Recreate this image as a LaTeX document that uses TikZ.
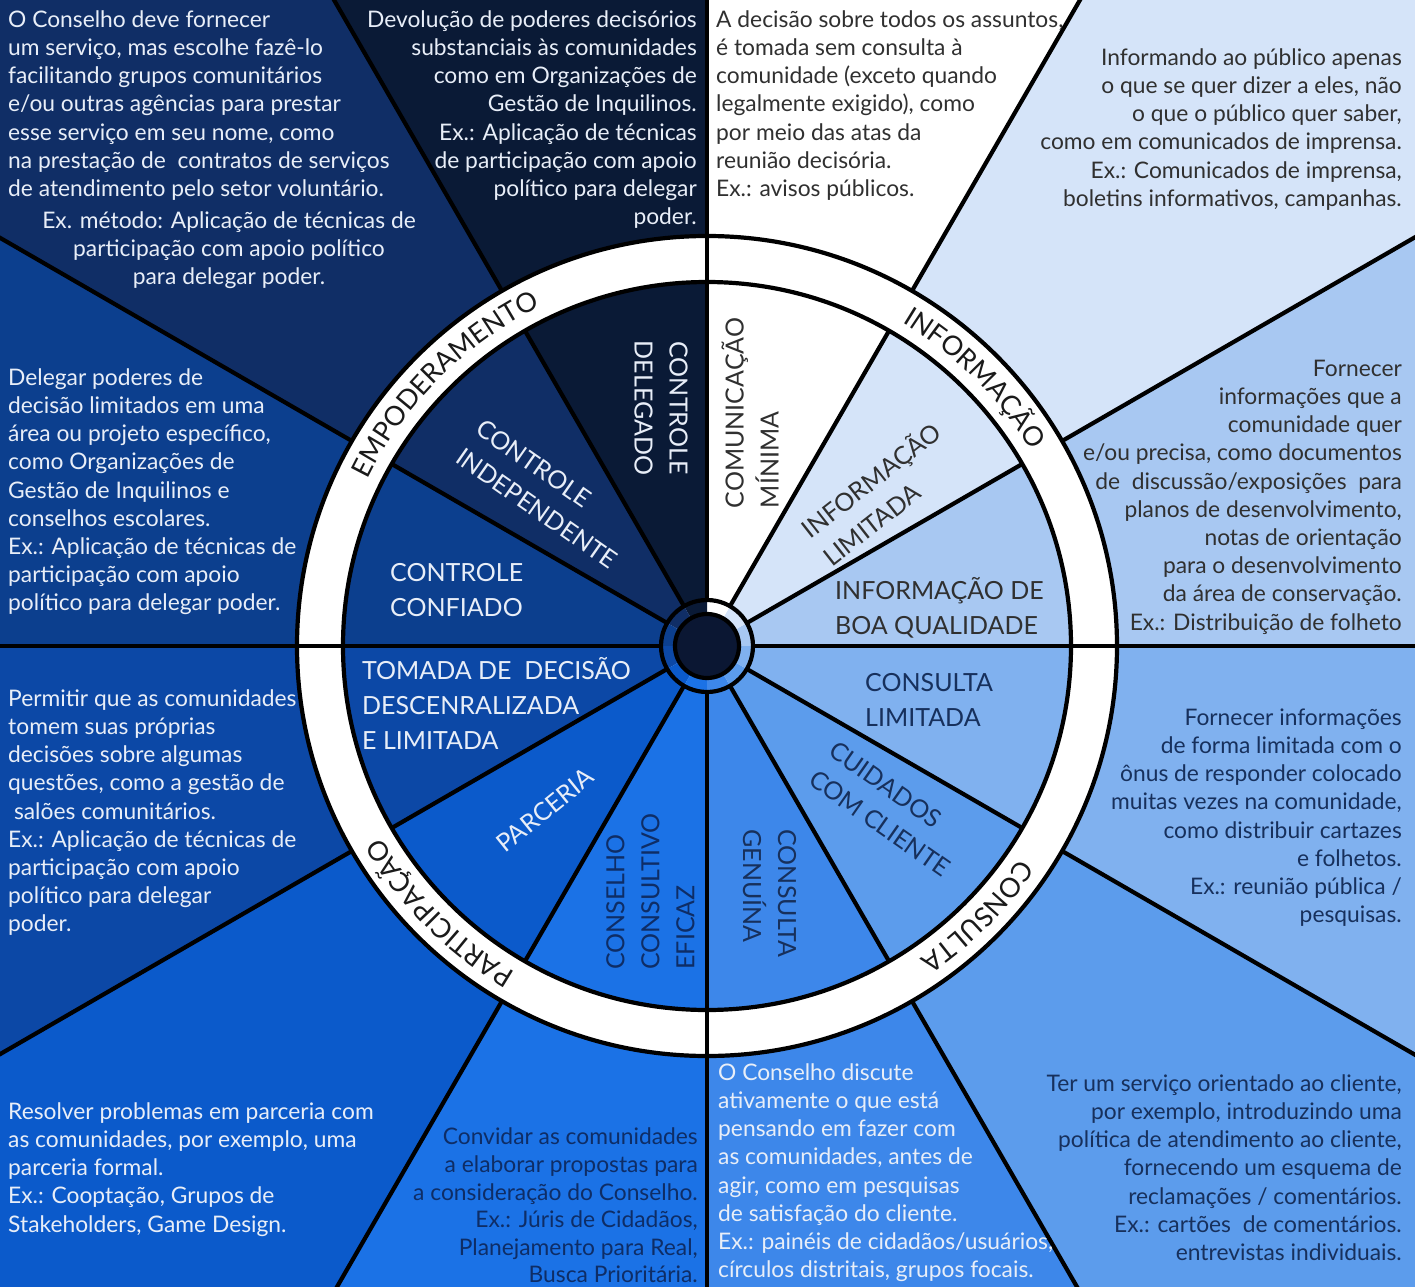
\documentclass[tikz,border=0pt]{standalone}
\usepackage{fontspec}
\setmainfont{Lato}
\usetikzlibrary{decorations.text}
\definecolor{sa}{HTML}{A8C8F2}
\definecolor{sb}{HTML}{D5E4F9}
\definecolor{sc}{HTML}{FFFFFF}
\definecolor{sd}{HTML}{0A1A36}
\definecolor{se}{HTML}{102E66}
\definecolor{sf}{HTML}{0C3F8E}
\definecolor{sg}{HTML}{0C48A6}
\definecolor{sh}{HTML}{0B5ACB}
\definecolor{si}{HTML}{1B72E6}
\definecolor{sj}{HTML}{3D87EA}
\definecolor{sk}{HTML}{5C9CEC}
\definecolor{sl}{HTML}{80B1EF}
\definecolor{hubc}{HTML}{0B1733}
\definecolor{lightT}{HTML}{E8EEF8}
\definecolor{greyT}{HTML}{303030}
\definecolor{navyT}{HTML}{17305C}
\definecolor{navyB}{HTML}{0E2D66}
\definecolor{ringT}{HTML}{1A1A1A}
\newcommand\myringfont{\fontsize{27}{27}\selectfont\color{ringT}}
\begin{document}
\begin{tikzpicture}[x=1pt,y=1pt,
  body/.style={inner sep=0pt, font=\fontsize{22.8}{28.2}\selectfont},
  lt/.style={body, text=lightT},
  gy/.style={body, text=greyT},
  nv/.style={body, text=navyT},
  lab/.style={inner sep=0pt, font=\fontsize{25}{35}\selectfont},
  edge/.style={line width=4.2pt, black, line cap=butt}]
\useasboundingbox (-707,-640) rectangle (708,646);
\begin{scope}
\clip (-707,-640) rectangle (708,646);
\foreach \a/\c in {0/sa,30/sb,60/sc,90/sd,120/se,150/sf,180/sg,210/sh,240/si,270/sj,300/sk,330/sl}
  \fill[\c] (0,0) -- (\a:2000) -- ({\a+30}:2000) -- cycle;
% white ring
\fill[white, even odd rule] (0,0) circle[radius=410] (0,0) circle[radius=364];
% radial lines interrupted by the ring
\foreach \a in {30,60,120,150,210,240,300,330}{
  \draw[edge] (\a:46) -- (\a:364);
  \draw[edge] (\a:410) -- (\a:2000);
}
% quadrant lines
\foreach \a in {0,90,180,270}
  \draw[edge] (\a:46) -- (\a:2000);
\draw[edge] (0,0) circle[radius=410];
\draw[edge] (0,0) circle[radius=364];
% hub
\draw[edge] (0,0) circle[radius=46];
\fill[hubc] (0,0) circle[radius=32];
\draw[edge] (0,0) circle[radius=32];
\end{scope}

% ring labels
\path[decorate, decoration={text along path, text align=center, text={|\myringfont|EMPODERAMENTO}}]
  (195:378) arc[start angle=195, end angle=75, radius=378];
\path[decorate, decoration={text along path, text align=center, text={|\myringfont|INFORMAÇÃO}}]
  (105:378) arc[start angle=105, end angle=-15, radius=378];
\path[decorate, decoration={text along path, text align=center, text={|\myringfont|CONSULTA}}]
  (15:378) arc[start angle=15, end angle=-105, radius=378];
\path[decorate, decoration={text along path, text align=center, text={|\myringfont|PARTICIPAÇÃO}}]
  (285:378) arc[start angle=285, end angle=165, radius=378];

% inner labels
\node[lab, text=lightT, rotate=-90, align=center] (cdel) at (-46,238) {CONTROLE\\DELEGADO};
\node[lab, text=lightT, rotate=-35, align=left] (cind) at (-160,152) {CONTROLE\\INDEPENDENTE};
\node[lab, text=lightT, anchor=west, align=left] (cconf) at (-317,55.5) {CONTROLE\\CONFIADO};
\node[lab, text=greyT, rotate=90, align=left] (cmin) at (43,233) {COMUNICAÇÃO\\MÍNIMA};
\node[lab, text=greyT, rotate=38, align=left] (ilim) at (174,153) {INFORMAÇÃO\\LIMITADA};
\node[lab, text=greyT, anchor=west, align=left] (iboa) at (128,38.5) {INFORMAÇÃO DE\\BOA QUALIDADE};
\node[lab, text=navyT, anchor=west, align=left] (clim) at (158,-53.5) {CONSULTA\\LIMITADA};
\node[lab, text=navyT, rotate=-35, align=left] (ccli) at (183,-163) {CUIDADOS\\COM CLIENTE};
\node[lab, text=navyT, rotate=-90, align=left] (cgen) at (62.5,-247.5) {CONSULTA\\GENUÍNA};
\node[lab, text=navyB, rotate=90, align=left] (ccons) at (-56.5,-245.5) {CONSELHO\\CONSULTIVO\\EFICAZ};
\node[lab, text=lightT, rotate=39] (parc) at (-162,-164) {PARCERIA};
\node[lab, text=lightT, anchor=west, align=left] (tomada) at (-345,-57) {TOMADA DE\ \ DECISÃO\\DESCENRALIZADA\\E LIMITADA};

% outer texts
\node[lt, anchor=north west, align=left] (tA) at (-699,638.6) {\strut O Conselho deve fornecer\\
um serviço, mas escolhe fazê-lo\\
facilitando grupos comunitários\\
e/ou outras agências para prestar\\
esse serviço em seu nome, como\\
na prestação de\ \ contratos de serviços\\
de atendimento pelo setor voluntário.};
\node[lt, anchor=north, align=center] (tA2) at (-478,437.6) {\strut Ex. método: Aplicação de técnicas de\\
participação com apoio político\\
para delegar poder.};
\node[lt, anchor=north east, align=right] (tB) at (-10,638.6) {\strut Devolução de poderes decisórios\\
substanciais às comunidades\\
como em Organizações de\\
Gestão de Inquilinos.\\
Ex.: Aplicação de técnicas\\
de participação com apoio\\
político para delegar\\
poder.};
\node[gy, anchor=north west, align=left] (tC) at (9,638.6) {\strut A decisão sobre todos os assuntos,\\
é tomada sem consulta à\\
comunidade (exceto quando\\
legalmente exigido), como\\
por meio das atas da\\
reunião decisória.\\
Ex.: avisos públicos.};
\node[gy, anchor=north east, align=right] (tD) at (695,600.6) {\strut Informando ao público apenas\\
o que se quer dizer a eles, não\\
o que o público quer saber,\\
como em comunicados de imprensa.\\
Ex.: Comunicados de imprensa,\\
boletins informativos, campanhas.};
\node[lt, anchor=north west, align=left] (tE) at (-699,280.6) {\strut Delegar poderes de\\
decisão limitados em uma\\
área ou projeto específico,\\
como Organizações de\\
Gestão de Inquilinos e\\
conselhos escolares.\\
Ex.: Aplicação de técnicas de\\
participação com apoio\\
político para delegar poder.};
\node[gy, anchor=north east, align=right] (tF) at (695,289.6) {\strut Fornecer\\
informações que a\\
comunidade quer\\
e/ou precisa, como documentos\\
de\ \ discussão/exposições\ \ para\\
planos de desenvolvimento,\\
notas de orientação\\
para o desenvolvimento\\
da área de conservação.\\
Ex.: Distribuição de folheto};
\node[lt, anchor=north west, align=left] (tG) at (-699,-40.4) {\strut Permitir que as comunidades\\
tomem suas próprias\\
decisões sobre algumas\\
questões, como a gestão de\\
\ salões comunitários.\\
Ex.: Aplicação de técnicas de\\
participação com apoio\\
político para delegar\\
poder.};
\node[nv, anchor=north east, align=right] (tH) at (695,-59.4) {\strut Fornecer informações\\
de forma limitada com o\\
ônus de responder colocado\\
muitas vezes na comunidade,\\
como distribuir cartazes\\
e folhetos.\\
Ex.: reunião pública /\\
pesquisas.};
\node[lt, anchor=north west, align=left] (tI) at (-699,-453.4) {\strut Resolver problemas em parceria com\\
as comunidades, por exemplo, uma\\
parceria formal.\\
Ex.: Cooptação, Grupos de\\
Stakeholders, Game Design.};
\node[body, text=navyB, anchor=north east, align=right, font=\fontsize{22.8}{27.6}\selectfont] (tJ) at (-9,-479.4) {\strut Convidar as comunidades\\
a elaborar propostas para\\
a consideração do Conselho.\\
Ex.: Júris de Cidadãos,\\
Planejamento para Real,\\
Busca Prioritária.};
\node[lt, anchor=north west, align=left] (tK) at (11,-414.4) {\strut O Conselho discute\\
ativamente o que está\\
pensando em fazer com\\
as comunidades, antes de\\
agir, como em pesquisas\\
de satisfação do cliente.\\
Ex.: painéis de cidadãos/usuários,\\
círculos distritais, grupos focais.};
\node[nv, anchor=north east, align=right] (tL) at (695,-425.4) {\strut Ter um serviço orientado ao cliente,\\
por exemplo, introduzindo uma\\
política de atendimento ao cliente,\\
fornecendo um esquema de\\
reclamações / comentários.\\
Ex.: cartões\ \ de comentários.\\
entrevistas individuais.};
\end{tikzpicture}
\end{document}
